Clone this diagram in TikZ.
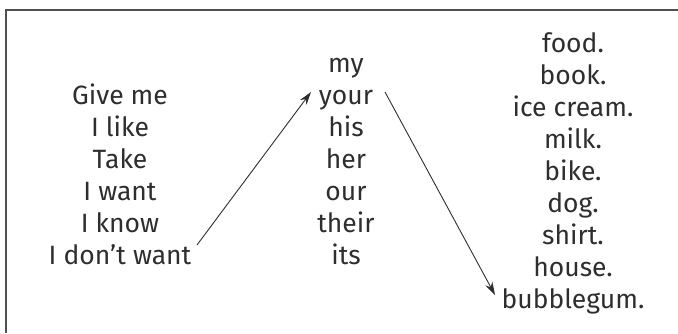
\documentclass[tikz,border=0pt]{standalone}
\usepackage{fontspec}
\setmainfont{Fira Sans}
\usetikzlibrary{arrows.meta}
\definecolor{txt}{HTML}{2E2E2E}
\definecolor{frm}{HTML}{505050}
\tikzset{
  word/.style={anchor=base, inner sep=0pt, text=txt, font=\fontsize{26.5}{30}\selectfont},
  frame/.style={draw=frm, line width=1.5pt},
  link/.style={draw=txt, line width=0.9pt, -{Stealth[length=13pt,width=8pt]}}
}
\begin{document}
\begin{tikzpicture}[x=1pt,y=-1pt]
\useasboundingbox (0,0) rectangle (678,333);
\draw[frame] (678,10) -- (6,10) -- (6,333);
% left column
\node[word] (l1) at (120,104) {Give me};
\node[word] (l2) at (120,136) {I like};
\node[word] (l3) at (120,168) {Take};
\node[word] (l4) at (120,200) {I want};
\node[word] (l5) at (120,232) {I know};
\node[word] (l6) at (120,264) {I don’t want};
% middle column
\node[word] (m1) at (346,72) {my};
\node[word] (m2) at (346,104) {your};
\node[word] (m3) at (346,136) {his};
\node[word] (m4) at (346,168) {her};
\node[word] (m5) at (346,200) {our};
\node[word] (m6) at (346,232) {their};
\node[word] (m7) at (346,264) {its};
% right column
\node[word] (r1) at (573,52) {food.};
\node[word] (r2) at (573,84) {book.};
\node[word] (r3) at (573,116) {ice cream.};
\node[word] (r4) at (573,148) {milk.};
\node[word] (r5) at (573,180) {bike.};
\node[word] (r6) at (573,212) {dog.};
\node[word] (r7) at (573,244) {shirt.};
\node[word] (r8) at (573,276) {house.};
\node[word] (r9) at (573,308) {bubblegum.};
% connectors
\coordinate (a1s) at (197,245);
\coordinate (a1e) at (311,92);
\coordinate (a2s) at (385,92);
\coordinate (a2e) at (495,295);
\draw[link] (a1s) -- (a1e);
\draw[link] (a2s) -- (a2e);
\end{tikzpicture}
\end{document}
